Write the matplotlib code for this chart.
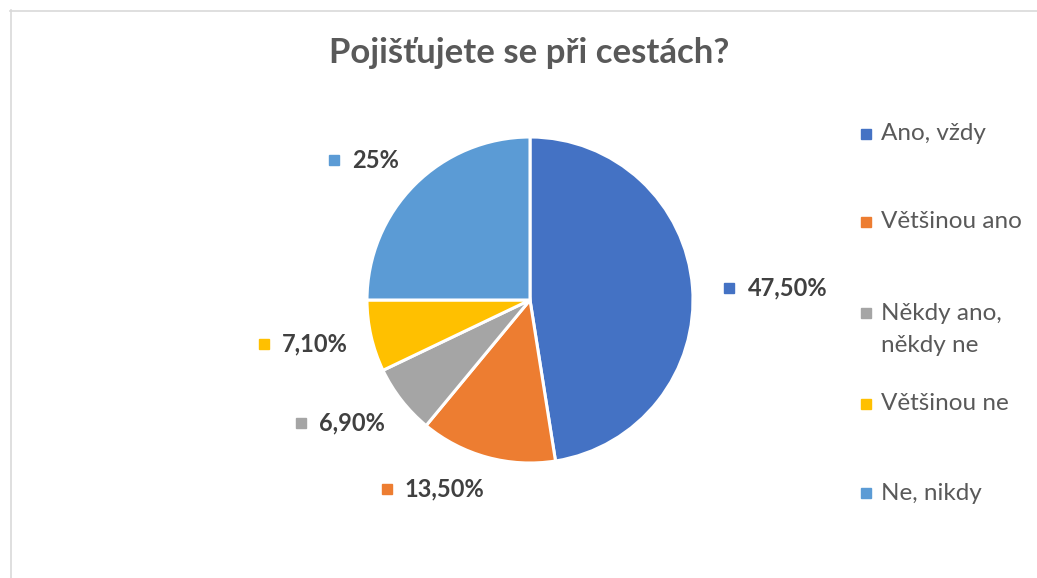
import matplotlib
matplotlib.use("Agg")
import matplotlib.pyplot as plt
import numpy as np
from matplotlib.lines import Line2D

categories = ["Ano, vždy", "Většinou ano", "Někdy ano,\nněkdy ne", "Většinou ne", "Ne, nikdy"]
values = [47.5, 13.5, 6.9, 7.1, 25.0]
value_labels = ["47,50%", "13,50%", "6,90%", "7,10%", "25%"]
colors = ["#4472C4", "#ED7D31", "#A5A5A5", "#FFC000", "#5B9BD5"]
title = "Pojišťujete se při cestách?"

W, H = 1037, 578
fig = plt.figure(figsize=(W / 100, H / 100), dpi=100)
fig.patch.set_facecolor("white")

def fx(px):
    return px / W

def fy(py):
    return 1 - py / H

# chart border (top and left edges visible)
fig.add_artist(Line2D([fx(10), 1], [fy(10.5), fy(10.5)], color="#D9D9D9", lw=1.2))
fig.add_artist(Line2D([fx(10.5), fx(10.5)], [fy(10), 0], color="#D9D9D9", lw=1.2))

FONT = "Lato"

# pie axes: center (530,300), radius 163 px
cx, cy, r = 530, 300, 163
half = 200
ax = fig.add_axes([fx(cx - half), fy(cy + half), 2 * half / W, 2 * half / H])
wedges, _ = ax.pie(values, colors=colors, startangle=90, counterclock=False,
                   radius=1.0, center=(0, 0), frame=True,
                   wedgeprops=dict(edgecolor="white", linewidth=2.2))
ax.set_xlim(-half / r, half / r)
ax.set_ylim(-half / r, half / r)
ax.axis("off")

# data labels: (angle deg, radial distance in radii) for text center
label_pos = [(2.7, 1.58), (-114.3, 1.27), (-145.4, 1.33), (-168.4, 1.35), (137.9, 1.28)]
label_texts = []
for (ang, dist), lab in zip(label_pos, value_labels):
    a = np.deg2rad(ang)
    x, y = dist * np.cos(a), dist * np.sin(a)
    t = ax.text(x, y, lab, ha="center", va="center", fontsize=17,
                fontweight="bold", color="#404040", family=FONT)
    label_texts.append(t)

fig.canvas.draw()
renderer = fig.canvas.get_renderer()
for txt, col in zip(label_texts, colors):
    bb = txt.get_window_extent(renderer)
    mx = bb.x0 - 18
    my = (bb.y0 + bb.y1) / 2
    fig.patches.append(plt.Rectangle((fx(mx - 5), (my - 5) / H), 10 / W, 10 / H,
                                     transform=fig.transFigure, color=col, figure=fig))

# title
fig.text(fx(529), fy(53), title, ha="center", va="center", fontsize=25,
         fontweight="bold", color="#595959", family=FONT)

# legend
leg_y = [134, 222, 313, 404, 493]
line_gap = 32
for cat, col, ly in zip(categories, colors, leg_y):
    fig.patches.append(plt.Rectangle((fx(861), fy(ly + 5)), 10 / W, 10 / H,
                                     transform=fig.transFigure, color=col, figure=fig))
    for i, line in enumerate(cat.split("\n")):
        fig.text(fx(881), fy(ly + i * line_gap), line, ha="left", va="center",
                 fontsize=17.5, color="#595959", family=FONT)

fig.savefig("out.png", dpi=100, facecolor="white")
